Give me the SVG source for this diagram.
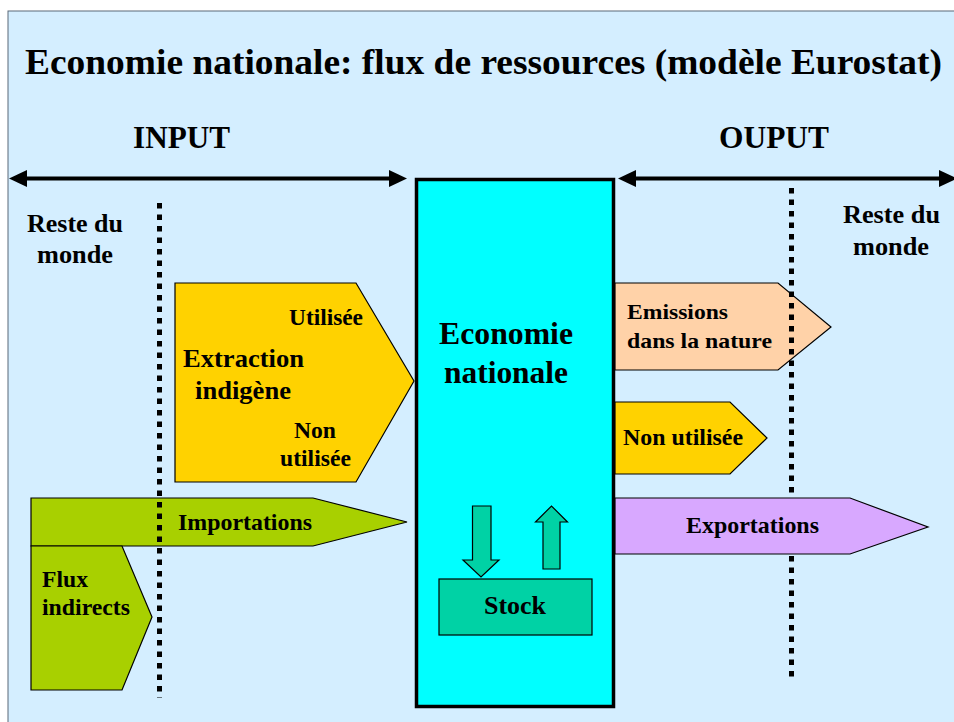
<svg xmlns="http://www.w3.org/2000/svg" width="954" height="722" viewBox="0 0 954 722" font-family="'Liberation Serif', 'Times New Roman', Times, serif" font-weight="bold">
<defs>
<marker id="ah" viewBox="0 0 18 17" refX="1" refY="8.5" markerWidth="18" markerHeight="17" markerUnits="userSpaceOnUse" orient="auto-start-reverse">
<path d="M0,0 L18,8.5 L0,17 Z" fill="#000"/>
</marker>
</defs>
<style>
text{font-family:'Liberation Serif','Times New Roman',Times,serif;font-weight:700;fill:#000}
.shape{stroke:#000;stroke-width:1.2;stroke-linejoin:miter}
.dots{stroke:#000;stroke-width:5;stroke-dasharray:5.5 6;fill:none}
.dbl{stroke:#000;stroke-width:4;fill:none}
</style>
<rect x="0" y="0" width="954" height="722" fill="#ffffff"/>
<rect x="8" y="11" width="960" height="730" fill="#D4EEFF" stroke="#5A6878" stroke-width="1"/>

<g id="title">
<text x="25" y="74" font-size="36" textLength="917" lengthAdjust="spacingAndGlyphs">Economie nationale: flux de ressources (modèle Eurostat)</text>
</g>
<g id="input-label"><text x="133" y="148" font-size="31" textLength="97" lengthAdjust="spacingAndGlyphs">INPUT</text></g>
<g id="output-label"><text x="719" y="148" font-size="31" textLength="110" lengthAdjust="spacingAndGlyphs">OUPUT</text></g>

<g id="connectors">
<line class="dbl" x1="26" y1="178.5" x2="390" y2="178.5" marker-start="url(#ah)" marker-end="url(#ah)"/>
<line class="dbl" x1="635" y1="178.5" x2="940" y2="178.5" marker-start="url(#ah)" marker-end="url(#ah)"/>
</g>

<g id="reste-du-monde-left">
<text x="27" y="232" font-size="26" textLength="96" lengthAdjust="spacingAndGlyphs">Reste du</text>
<text x="37" y="263" font-size="26" textLength="76" lengthAdjust="spacingAndGlyphs">monde</text>
</g>
<g id="reste-du-monde-right">
<text x="843" y="223" font-size="26" textLength="97" lengthAdjust="spacingAndGlyphs">Reste du</text>
<text x="853" y="255" font-size="26" textLength="76" lengthAdjust="spacingAndGlyphs">monde</text>
</g>

<g id="economie-nationale">
<rect x="416.5" y="179.5" width="197" height="527" fill="#00FFFF" stroke="#000" stroke-width="3.5"/>
<text x="439" y="344" font-size="31" textLength="134" lengthAdjust="spacingAndGlyphs">Economie</text>
<text x="444" y="383" font-size="31" textLength="124" lengthAdjust="spacingAndGlyphs">nationale</text>
</g>

<g id="stock">
<path class="shape" fill="#00D2A5" d="M472.5,506 H491 V560 H499 L481,577 L463,560 H472.5 Z"/>
<path class="shape" fill="#00D2A5" d="M543,569 V522 H535.5 L551.5,506 L567.5,522 H560 V569 Z"/>
<rect class="shape" x="439" y="579" width="153" height="56" fill="#00D2A5"/>
<text x="484" y="614" font-size="26" textLength="62" lengthAdjust="spacingAndGlyphs">Stock</text>
</g>

<g id="extraction-indigene">
<polygon class="shape" fill="#FFD200" points="175,283 356,283 414,381 356,482 175,482"/>
<text x="289" y="325" font-size="24" textLength="74" lengthAdjust="spacingAndGlyphs">Utilisée</text>
<text x="183" y="367" font-size="25" textLength="121" lengthAdjust="spacingAndGlyphs">Extraction</text>
<text x="195" y="399" font-size="25" textLength="96" lengthAdjust="spacingAndGlyphs">indigène</text>
<text x="294" y="438" font-size="24" textLength="42" lengthAdjust="spacingAndGlyphs">Non</text>
<text x="280" y="466" font-size="24" textLength="71" lengthAdjust="spacingAndGlyphs">utilisée</text>
</g>

<g id="importations">
<polygon class="shape" fill="#A8D000" points="31,498 313,498 407,522 313,546 31,546"/>
<text x="178" y="530" font-size="24" textLength="134" lengthAdjust="spacingAndGlyphs">Importations</text>
</g>

<g id="flux-indirects">
<polygon class="shape" fill="#A8D000" points="31,546 122,546 152,617 122,690 31,690"/>
<text x="42" y="587" font-size="24" textLength="46" lengthAdjust="spacingAndGlyphs">Flux</text>
<text x="42" y="615" font-size="24" textLength="88" lengthAdjust="spacingAndGlyphs">indirects</text>
</g>

<g id="frontiere-gauche">
<line class="dots" x1="159.5" y1="203" x2="159.5" y2="698"/>
</g>

<g id="emissions">
<polygon class="shape" fill="#FFD2A8" points="615,283 778,283 831,327 778,370 615,370"/>
<text x="627" y="319" font-size="22" textLength="101" lengthAdjust="spacingAndGlyphs">Emissions</text>
<text x="627" y="348" font-size="22" textLength="145" lengthAdjust="spacingAndGlyphs">dans la nature</text>
</g>

<g id="frontiere-droite">
<line class="dots" x1="791.5" y1="188" x2="791.5" y2="682"/>
</g>

<g id="non-utilisee">
<polygon class="shape" fill="#FFD200" points="615,402 730,402 767,438 730,474 615,474"/>
<text x="623" y="445" font-size="23" textLength="120" lengthAdjust="spacingAndGlyphs">Non utilisée</text>
</g>

<g id="exportations">
<polygon class="shape" fill="#D8A8FF" points="615,498 850,498 928,527 850,554 615,554"/>
<text x="686" y="533" font-size="24" textLength="133" lengthAdjust="spacingAndGlyphs">Exportations</text>
</g>
</svg>
